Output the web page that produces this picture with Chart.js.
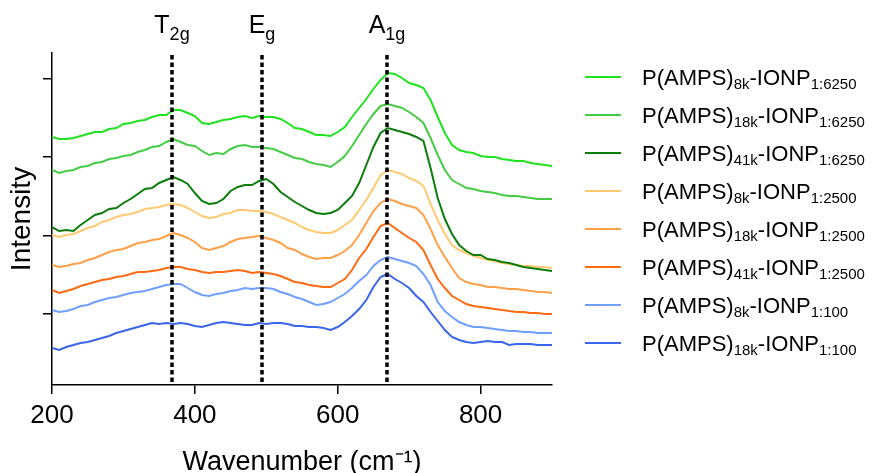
<!DOCTYPE html>
<html lang="en">
  <head>
    <meta charset="UTF-8" />
    <script src="https://cdn.jsdelivr.net/npm/chart.js"></script>
    <title>Raman spectra P(AMPS)-IONP</title>
    <style>
      body { margin: 0; background: #fff; }
    </style>
  </head>
  <body>
    <canvas id="ramanChart" width="878" height="473"></canvas>

    <script>
      // wavenumber axis (cm-1)
      const wavenumbers = [
        200, 210, 220, 230, 240, 250, 260, 270, 280, 290,
        300, 310, 320, 330, 340, 350, 360, 370, 380, 390,
        400, 410, 420, 430, 440, 450, 460, 470, 480, 490,
        500, 510, 520, 530, 540, 550, 560, 570, 580, 590,
        600, 610, 620, 630, 640, 650, 660, 670, 680, 690,
        700, 710, 720, 730, 740, 750, 760, 770, 780, 790,
        800, 810, 820, 830, 840, 850, 860, 870, 880, 890, 900
      ];
      const xTicks = [200, 400, 600, 800];
      const yTicks = [86, 164, 243, 321];

      // intensity (a.u., offset stacked)
      const amps8k_6250 = [
        263, 261, 261, 262, 264, 266, 268, 268, 271, 272,
        276, 277, 279, 280, 283, 285, 285, 290, 290, 287,
        284, 277, 276, 278, 280, 281, 283, 284, 282, 284,
        283, 283, 281, 277, 272, 271, 268, 265, 265, 264,
        268, 273, 283, 292, 301, 311, 320, 327, 326, 322,
        317, 315, 312, 300, 283, 267, 255, 250, 248, 247,
        244, 243, 243, 241, 240, 239, 239, 237, 236, 235, 234
      ];
      const amps18k_6250 = [
        230, 227, 229, 230, 233, 234, 237, 238, 241, 242,
        244, 245, 248, 250, 253, 254, 258, 261, 258, 255,
        254, 249, 245, 247, 246, 251, 254, 255, 253, 253,
        252, 251, 248, 245, 242, 241, 238, 236, 235, 233,
        238, 244, 254, 265, 276, 286, 294, 296, 294, 292,
        288, 283, 277, 262, 245, 230, 220, 216, 212, 211,
        209, 208, 207, 205, 204, 204, 203, 202, 201, 201, 201
      ];
      const amps41k_6250 = [
        173, 169, 170, 169, 175, 180, 185, 187, 191, 192,
        197, 201, 206, 211, 212, 217, 220, 223, 220, 216,
        207, 199, 196, 197, 201, 209, 213, 215, 215, 219,
        221, 216, 208, 203, 198, 194, 190, 187, 186, 187,
        190, 197, 204, 217, 235, 253, 267, 272, 270, 268,
        266, 263, 259, 232, 202, 181, 166, 155, 149, 145,
        145, 141, 140, 138, 137, 135, 133, 132, 131, 130, 129
      ];
      const amps8k_2500 = [
        165, 163, 165, 166, 169, 172, 174, 178, 180, 183,
        185, 186, 188, 191, 192, 193, 195, 196, 195, 192,
        188, 184, 182, 183, 186, 187, 190, 190, 189, 189,
        188, 186, 183, 180, 177, 173, 170, 168, 167, 167,
        170, 175, 180, 190, 200, 212, 225, 230, 228, 226,
        222, 219, 214, 196, 180, 166, 155, 150, 147, 144,
        142, 140, 139, 137, 136, 135, 134, 134, 133, 133, 132
      ];
      const amps18k_2500 = [
        135, 133, 134, 136, 137, 140, 142, 145, 148, 150,
        151, 154, 157, 158, 160, 161, 164, 167, 165, 162,
        158, 152, 150, 152, 154, 158, 161, 162, 163, 164,
        162, 160, 157, 152, 150, 146, 143, 141, 142, 142,
        145, 149, 155, 165, 177, 189, 197, 201, 199, 196,
        194, 192, 185, 171, 155, 143, 132, 122, 118, 116,
        115, 113, 113, 112, 111, 111, 110, 109, 108, 108, 107
      ];
      const amps41k_2500 = [
        110, 107, 109, 111, 114, 116, 118, 120, 121, 123,
        124, 126, 128, 128, 129, 130, 132, 133, 133, 131,
        130, 128, 127, 128, 128, 129, 130, 129, 127, 128,
        127, 126, 124, 121, 118, 117, 115, 114, 113, 113,
        117, 121, 130, 142, 151, 163, 174, 177, 172, 167,
        162, 158, 150, 135, 121, 112, 104, 100, 96, 94,
        93, 92, 91, 90, 89, 88, 88, 87, 87, 86, 86
      ];
      const amps8k_100 = [
        90, 88, 89, 91, 94, 95, 98, 100, 102, 103,
        105, 107, 108, 109, 111, 113, 115, 116, 116, 112,
        108, 105, 104, 106, 107, 109, 110, 112, 111, 112,
        112, 111, 108, 106, 103, 101, 98, 95, 96, 98,
        102, 106, 112, 119, 125, 134, 140, 143, 141, 139,
        137, 134, 126, 115, 98, 89, 83, 78, 75, 73,
        73, 72, 71, 70, 69, 69, 68, 68, 67, 67, 67
      ];
      const amps18k_100 = [
        52, 50, 53, 55, 57, 58, 60, 62, 64, 67,
        69, 71, 73, 75, 77, 76, 77, 76, 77, 76,
        74, 73, 75, 77, 78, 77, 76, 75, 75, 77,
        76, 77, 77, 76, 74, 74, 73, 73, 72, 70,
        73, 78, 84, 91, 100, 113, 123, 126, 121, 117,
        112, 104, 98, 88, 79, 70, 63, 60, 58, 57,
        58, 59, 58, 58, 55, 56, 56, 56, 55, 55, 55
      ];

      // legend pieces (molar mass, ratio) and colours
      const molarMass = ["8k", "18k", "41k", "8k", "18k", "41k", "8k", "18k"];
      const ratios = ["1:6250", "1:6250", "1:6250", "1:2500", "1:2500", "1:2500", "1:100", "1:100"];
      const cores = ["#1ee31e", "#45cc45", "#0b7d0b", "#ffc972", "#ffa048", "#ff6a12", "#6f9fff", "#3a66ee"];
      const series = [amps8k_6250, amps18k_6250, amps41k_6250, amps8k_2500,
                      amps18k_2500, amps41k_2500, amps8k_100, amps18k_100];

      // peak markers
      const peakPos = [368, 494, 669];
      const peakMain = ["T", "E", "A"];
      const peakSub = ["2g", "g", "1g"];

      const FONT = "'Liberation Sans', Arial, sans-serif";
      Chart.defaults.font.family = FONT;
      Chart.defaults.color = "#000";

      // writes text pieces with subscripts, pieces = [text, size, dy]
      function escreverPartes(ctx, partes, x, y, align) {
        let total = 0;
        partes.forEach(function (p) {
          ctx.font = p[1] + "px " + FONT;
          total += ctx.measureText(p[0]).width;
        });
        let cx = align === "center" ? x - total / 2 : x;
        partes.forEach(function (p) {
          ctx.font = p[1] + "px " + FONT;
          ctx.fillText(p[0], cx, y + p[2]);
          cx += ctx.measureText(p[0]).width;
        });
      }

      const picosPlugin = {
        id: "picos",
        afterDatasetsDraw(chart) {
          const { ctx, chartArea, scales } = chart;
          ctx.save();
          ctx.strokeStyle = "#000";
          ctx.lineWidth = 3.5;
          ctx.setLineDash([4.5, 3]);
          peakPos.forEach(function (p) {
            const px = scales.x.getPixelForValue(p);
            ctx.beginPath();
            ctx.moveTo(px, chartArea.top + 2);
            ctx.lineTo(px, chartArea.bottom);
            ctx.stroke();
          });
          ctx.setLineDash([]);
          ctx.fillStyle = "#000";
          ctx.textBaseline = "alphabetic";
          ctx.textAlign = "left";
          peakPos.forEach(function (p, i) {
            const px = scales.x.getPixelForValue(p);
            escreverPartes(ctx, [[peakMain[i], 25, 0], [peakSub[i], 18, 7]], px, 33, "center");
          });
          ctx.restore();
        },
        afterDraw(chart) {
          const ctx = chart.ctx;
          ctx.save();
          ctx.textBaseline = "alphabetic";
          ctx.textAlign = "left";
          chart.data.datasets.forEach(function (ds, i) {
            const y = 77 + 38 * i;
            ctx.strokeStyle = ds.borderColor;
            ctx.lineWidth = 2;
            ctx.beginPath();
            ctx.moveTo(585, y);
            ctx.lineTo(621, y);
            ctx.stroke();
            ctx.fillStyle = "#000";
            escreverPartes(ctx, [
              ["P(AMPS)", 22, 0],
              [molarMass[i], 15, 4],
              ["-IONP", 22, 0],
              [ratios[i], 15, 4]
            ], 642, y + 7.5, "left");
          });
          ctx.restore();
        }
      };

      const datasets = series.map(function (valores, i) {
        return {
          label: "P(AMPS)" + molarMass[i] + "-IONP" + ratios[i],
          data: wavenumbers.map(function (w, j) { return { x: w, y: valores[j] }; }),
          borderColor: cores[i],
          borderWidth: 2,
          pointRadius: 0,
          tension: 0,
          fill: false
        };
      });

      const config = {
        type: "line",
        data: { datasets: datasets },
        options: {
          responsive: false,
          animation: false,
          layout: { padding: { top: 53, right: 326, left: 0, bottom: 0 } },
          plugins: {
            legend: { display: false },
            tooltip: { enabled: false }
          },
          scales: {
            x: {
              type: "linear",
              min: 200,
              max: 900,
              afterBuildTicks: function (s) { s.ticks = xTicks.map(function (v) { return { value: v }; }); },
              afterFit: function (s) { s.height = 88; },
              border: { color: "#000", width: 1.5 },
              grid: { drawOnChartArea: false, drawTicks: true, tickLength: 9, color: "#000", lineWidth: 1.5 },
              ticks: { font: { size: 26 }, padding: 6, color: "#000", maxRotation: 0 },
              title: {
                display: true,
                text: "Wavenumber (cm⁻¹)",
                font: { size: 27, lineHeight: 0.75 },
                padding: { top: 0, bottom: 0 },
                color: "#000"
              }
            },
            y: {
              min: 15,
              max: 347,
              afterBuildTicks: function (s) { s.ticks = yTicks.map(function (v) { return { value: v }; }); },
              afterFit: function (s) { s.width = 52; },
              border: { color: "#000", width: 1.5 },
              grid: { drawOnChartArea: false, drawTicks: true, tickLength: 9, color: "#000", lineWidth: 1.5 },
              ticks: { display: false },
              title: {
                display: true,
                text: "Intensity",
                font: { size: 28 },
                padding: { top: 5, bottom: 0 },
                color: "#000"
              }
            }
          }
        },
        plugins: [picosPlugin]
      };

      new Chart(document.getElementById("ramanChart"), config);
    </script>
  </body>
</html>
